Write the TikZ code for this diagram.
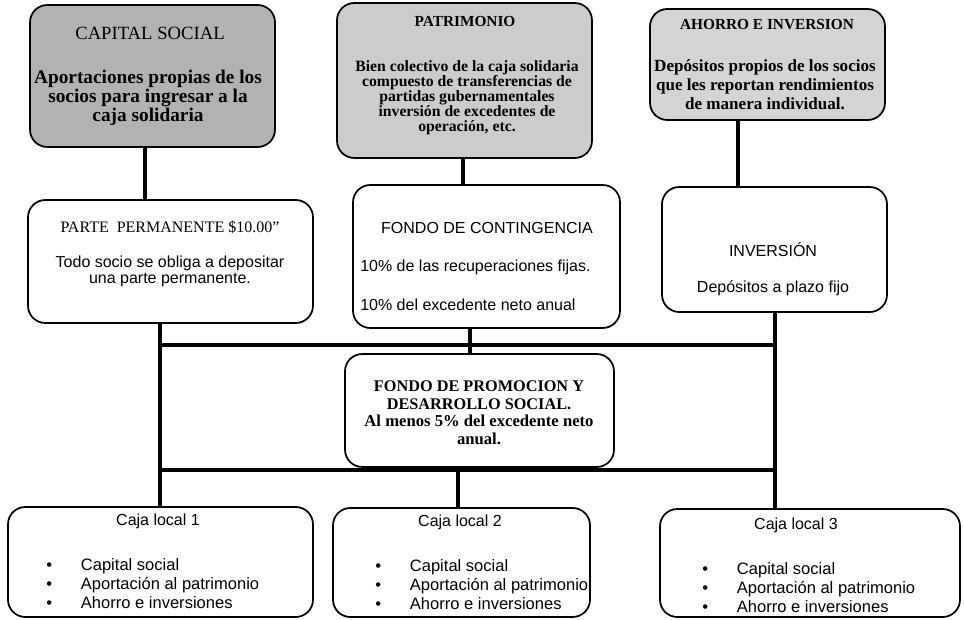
\documentclass[tikz,border=0pt]{standalone}
\usepackage{fontspec}
\setmainfont{Liberation Serif}
\newfontfamily\arial{Liberation Sans}
\usetikzlibrary{fit}
\newcommand{\bul}{\makebox[26pt][l]{•}}
\begin{document}
\begin{tikzpicture}[x=0.75pt,y=-0.75pt,
  box/.style={draw, line width=1.3pt, rounded corners=13pt, inner sep=0pt},
  darkbox/.style={box, fill=gray!60},
  midbox/.style={box, fill=gray!40},
  lightbox/.style={box, fill=gray!34},
  wire/.style={line width=3pt},
  lbl/.style={inner sep=0pt, align=center},
  lleft/.style={inner sep=0pt, align=left, anchor=west},
  sans/.style={font=\arial\fontsize{12}{12}\selectfont},
  items/.style={lleft, font=\arial\fontsize{12.4}{14.2}\selectfont},
]
\useasboundingbox (0,0) rectangle (964,620);

% boxes
\node[darkbox, fit={(30,5)(275,147)}] (cap) {};
\node[midbox, fit={(337,3)(592,158)}] (pat) {};
\node[lightbox, fit={(650,9)(885,120)}] (aho) {};
\node[box, fit={(28,200)(313,323)}] (parte) {};
\node[box, fit={(353,185)(620,328)}] (cont) {};
\node[box, fit={(662,187)(887,312)}] (inv) {};
\node[box, fill=white, fit={(345,354)(614,467)}] (prom) {};
\node[box, fit={(8,507)(313,617)}] (caja1) {};
\node[box, fit={(333,508)(590,617)}] (caja2) {};
\node[box, fit={(660,509)(960,617)}] (caja3) {};

% junction coordinates
\coordinate (xcap) at (145,0);
\coordinate (xpat) at (463,0);
\coordinate (xaho) at (738,0);
\coordinate (xl) at (160,0);
\coordinate (xr) at (775,0);
\coordinate (xc) at (470,0);
\coordinate (xc2) at (458,0);
\coordinate (bar1l) at (160,345);
\coordinate (bar1r) at (775,345);
\coordinate (bar2l) at (160,470);
\coordinate (bar2r) at (775,470);

% connectors
\draw[wire] (cap.south -| xcap) -- (parte.north -| xcap);
\draw[wire] (pat.south -| xpat) -- (cont.north -| xpat);
\draw[wire] (aho.south -| xaho) -- (inv.north -| xaho);
\draw[wire] (parte.south -| xl) -- (caja1.north -| xl);
\draw[wire] (inv.south -| xr) -- (caja3.north -| xr);
\draw[wire] (bar1l) -- (bar1r);
\draw[wire] (cont.south -| xc) -- (prom.north -| xc);
\draw[wire] (bar2l) -- (bar2r);
\draw[wire] (bar2l -| xc2) -- (caja2.north -| xc2);

% texts: top row
\node[lbl, font=\fontsize{14}{16}\selectfont] (capT) at (150,33) {CAPITAL SOCIAL};
\node[lbl, font=\bfseries\fontsize{14.5}{14.5}\selectfont] (capB) at (148,98)
  {Aportaciones propias de los\\socios para ingresar a la\\caja solidaria};

\node[lbl, font=\bfseries\fontsize{11.5}{13}\selectfont] (patT) at (465,22) {PATRIMONIO};
\node[lbl, font=\bfseries\fontsize{11.8}{11.2}\selectfont] (patB) at (467,98)
  {Bien colectivo de la caja solidaria\\compuesto de transferencias de\\partidas gubernamentales\\inversión de excedentes de\\operación, etc.};

\node[lbl, font=\bfseries\fontsize{11.5}{13}\selectfont] (ahoT) at (767,25) {AHORRO E INVERSION};
\node[lbl, font=\bfseries\fontsize{12.8}{14.2}\selectfont] (ahoB) at (765,85)
  {Depósitos propios de los socios\\que les reportan rendimientos\\de manera individual.};

% middle row
\node[lbl, font=\fontsize{12}{14}\selectfont] (parT) at (170,227) {PARTE\ \ PERMANENTE \$10.00”};
\node[lbl, sans] (parB) at (170,271) {Todo socio se obliga a depositar\\una parte permanente.};

\node[lbl, sans] (conT) at (487,228) {FONDO DE CONTINGENCIA};
\node[lleft, sans] (conA) at (360,267) {10\% de las recuperaciones fijas.};
\node[lleft, sans] (conB) at (360,305) {10\% del excedente neto anual};

\node[lbl, sans] (invT) at (773,250) {INVERSIÓN};
\node[lbl, sans] (invB) at (773,288) {Depósitos a plazo fijo};

% promotion fund
\node[lbl, font=\bfseries\fontsize{12.2}{13.5}\selectfont] (proT) at (479,395)
  {FONDO DE PROMOCION Y\\DESARROLLO SOCIAL.};
\node[lbl, font=\bfseries\fontsize{12.5}{13.5}\selectfont] (proB) at (479,430)
  {Al menos 5\% del excedente neto\\anual.};

% local boxes
\node[lbl, sans] (c1T) at (158,521) {Caja local 1};
\node[items] (c1i) at (46,584)
  {\bul Capital social\\\bul Aportación al patrimonio\\\bul Ahorro e inversiones};

\node[lbl, sans] (c2T) at (460,522) {Caja local 2};
\node[items] (c2i) at (375,585)
  {\bul Capital social\\\bul Aportación al patrimonio\\\bul Ahorro e inversiones};

\node[lbl, sans] (c3T) at (796,525) {Caja local 3};
\node[items] (c3i) at (702,588)
  {\bul Capital social\\\bul Aportación al patrimonio\\\bul Ahorro e inversiones};
\end{tikzpicture}
\end{document}
